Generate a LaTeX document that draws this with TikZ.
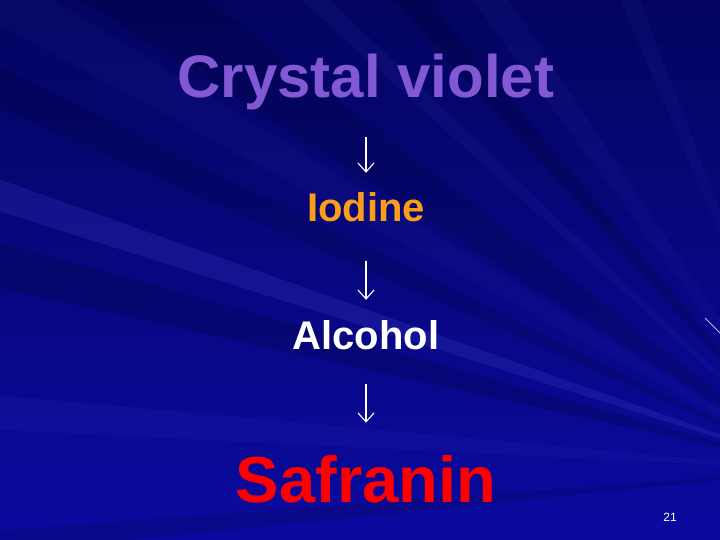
\documentclass[tikz,border=0pt]{standalone}
\usepackage{fontspec}
\setmainfont{Liberation Sans}
\usetikzlibrary{arrows.meta}

\definecolor{fondhaut}{RGB}{4,4,96}
\definecolor{fondbas}{RGB}{10,10,160}
\definecolor{rayon}{RGB}{90,90,235}
\definecolor{trait}{RGB}{215,170,240}
\definecolor{violetcv}{RGB}{130,88,212}
\definecolor{orangeiode}{RGB}{250,158,24}
\definecolor{rougesaf}{RGB}{255,0,0}

\tikzset{
  etape/.style={anchor=base, inner sep=0pt},
  fleche/.style={draw=white, line width=1.1pt, -{Straight Barb[length=9pt,width=16pt]}},
}

\begin{document}
\begin{tikzpicture}[x=1pt,y=1pt]
    % fond de la diapositive : dégradé bleu
    \useasboundingbox (0,0) rectangle (720,540);
    \shade[top color=fondhaut, bottom color=fondbas] (0,0) rectangle (720,540);

    % rayons clairs et sombres partant du coin en bas à droite
    \begin{scope}
        \clip (0,0) rectangle (720,540);
        \foreach \a/\w/\o in {112/1/0.06, 125/1.5/0.06, 137/0.8/0.07, 150/1.5/0.05, 161.5/1/0.16, 176/1.2/0.07}
            \fill[rayon, opacity=\o] (820,70) -- ++(\a-\w:1300) arc[start angle=\a-\w, end angle=\a+\w, radius=1300] -- cycle;
        \foreach \a/\w/\o in {131/1.2/0.14, 145/2.5/0.12, 155/1.2/0.12, 166/1.5/0.14, 185/0.8/0.12}
            \fill[black, opacity=\o] (820,70) -- ++(\a-\w:1300) arc[start angle=\a-\w, end angle=\a+\w, radius=1300] -- cycle;
        \draw[trait, line width=0.8pt] (705,222) -- (720,207);
    \end{scope}

    % les quatre étapes de la coloration
    \node[etape, text=violetcv, font=\fontsize{60}{72}\selectfont\bfseries] (cristal) at (366,442) {Crystal violet};
    \node[etape, text=orangeiode, font=\fontsize{40}{48}\selectfont\bfseries] (iode) at (366,318) {Iodine};
    \node[etape, text=white, font=\fontsize{40}{48}\selectfont\bfseries] (alcool) at (366,190) {Alcohol};
    \node[etape, text=rougesaf, font=\fontsize{65}{78}\selectfont\bfseries] (safranine) at (366,37) {Safranin};

    % flèches entre les étapes
    \draw[fleche, shorten <=26pt, shorten >=20pt] (cristal) -- (iode);
    \draw[fleche, shorten <=38pt, shorten >=21pt] (iode) -- (alcool);
    \draw[fleche, shorten <=33pt, shorten >=33pt] (alcool) -- (safranine);

    % numéro de la diapositive
    \node[etape, text=white, font=\fontsize{12}{14}\selectfont] (numero) at (670,18) {21};
\end{tikzpicture}
\end{document}
